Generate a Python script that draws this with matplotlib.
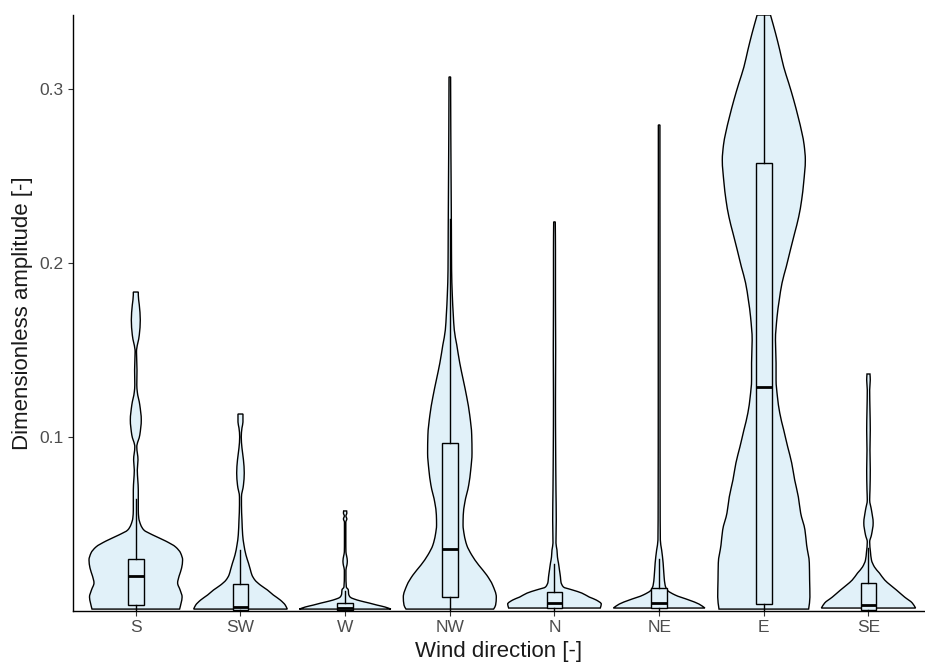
import numpy as np
import matplotlib.pyplot as plt
from matplotlib.path import Path
from matplotlib.patches import PathPatch

plt.rcParams["font.family"] = ["Liberation Sans", "DejaVu Sans"]

directions = ["S", "SW", "W", "NW", "N", "NE", "E", "SE"]

# violin outlines: amplitude levels (bottom to top) and relative density at each level
s_level = [0.0011, 0.0046, 0.0080, 0.0121, 0.0161, 0.0201, 0.0247, 0.0293, 0.0333, 0.0368,
           0.0402, 0.0437, 0.0466, 0.0494, 0.0534, 0.0580, 0.0638, 0.0695, 0.0753, 0.0810,
           0.0868, 0.0943, 0.1011, 0.1098, 0.1184, 0.1259, 0.1299, 0.1385, 0.1489, 0.1586,
           0.1672, 0.1759, 0.1816, 0.1833]
s_density = [44, 45.5, 46.5, 44.5, 42, 43.5, 46, 47, 45, 40,
             30, 17, 8, 5, 3, 2.5, 2.5, 2.5, 2, 1.5,
             2.2, 1, 4, 5.5, 4, 1.5, 1, 1.2, 0.7, 3.5,
             4.5, 3.5, 2.5, 2.5]

sw_level = [0.0011, 0.0034, 0.0063, 0.0092, 0.0121, 0.0149, 0.0178, 0.0207, 0.0236, 0.0276,
            0.0322, 0.0379, 0.0437, 0.0523, 0.0609, 0.0655, 0.0724, 0.0793, 0.0868, 0.0937,
            0.1000, 0.1052, 0.1086, 0.1132]
sw_density = [47, 45, 40, 33, 27, 20, 14.5, 11.5, 10, 8,
              5.5, 3.5, 2.2, 1.5, 1, 1, 3, 3.8, 3, 1.5,
              0.8, 1.5, 2.5, 2.5]

w_level = [0.0011, 0.0023, 0.0034, 0.0046, 0.0057, 0.0069, 0.0080, 0.0098, 0.0121, 0.0138,
           0.0207, 0.0236, 0.0264, 0.0287, 0.0316, 0.0339, 0.0400, 0.0511, 0.0529, 0.0546,
           0.0563, 0.0575]
w_density = [46, 40, 32, 24, 16, 9, 5, 3.5, 3.2, 1.2,
             0.8, 0.8, 1.8, 2.2, 1.5, 0.8, 0.7, 0.7, 1.7, 0.8,
             1.7, 1.5]

nw_level = [0.0011, 0.0034, 0.0080, 0.0149, 0.0207, 0.0264, 0.0322, 0.0379, 0.0437, 0.0494,
            0.0552, 0.0621, 0.0724, 0.0810, 0.0908, 0.1011, 0.1126, 0.1230, 0.1328, 0.1425,
            0.1529, 0.1615, 0.1701, 0.1816, 0.1960, 0.2190, 0.2477, 0.2764, 0.3069]
nw_density = [44, 46, 46.7, 43, 37, 29, 22, 17, 14.5, 13.3,
              13.5, 15, 19, 21, 22.3, 22, 20, 17, 13.5, 10,
              7, 4.5, 3.5, 2.5, 1.8, 1.6, 1.3, 1.0, 0.8]

n_level = [0.0017, 0.0040, 0.0063, 0.0080, 0.0103, 0.0121, 0.0138, 0.0167, 0.0195, 0.0236,
           0.0276, 0.0310, 0.0351, 0.0391, 0.0523, 0.0695, 0.0925, 0.1213, 0.1500, 0.1787,
           0.2075, 0.2236]
n_density = [46, 47, 42, 35, 27.5, 18, 9, 6.5, 6, 5,
             4, 3, 2.5, 1.5, 1.8, 1.5, 1.2, 1.0, 1.2, 1.0,
             1.0, 0.8]

ne_level = [0.0017, 0.0040, 0.0063, 0.0092, 0.0121, 0.0149, 0.0195, 0.0276, 0.0351, 0.0408,
            0.0638, 0.1213, 0.1787, 0.2362, 0.2793]
ne_density = [46, 40, 30, 16, 8, 6, 5, 4, 2.5, 1.2,
              1.0, 0.9, 0.9, 0.8, 0.8]

e_level = [0.0011, 0.0080, 0.0178, 0.0276, 0.0379, 0.0466, 0.0563, 0.0655, 0.0753, 0.0851,
           0.0943, 0.1040, 0.1138, 0.1230, 0.1328, 0.1425, 0.1557, 0.1690, 0.1787, 0.1885,
           0.1977, 0.2075, 0.2172, 0.2264, 0.2362, 0.2460, 0.2592, 0.2678, 0.2747, 0.2839,
           0.2937, 0.3034, 0.3126, 0.3224, 0.3322, 0.3425]
e_density = [45, 46.3, 46, 45.7, 43, 41.3, 37, 34.7, 31, 28,
             24, 20, 16, 13.7, 12.3, 12.3, 11.7, 13.3, 15.5, 18.3,
             22.5, 26.7, 31, 35, 38, 40, 41.7, 40.5, 38.3, 34.5,
             30, 25, 20, 16, 11.7, 6.7]

se_level = [0.0017, 0.0046, 0.0080, 0.0121, 0.0149, 0.0178, 0.0218, 0.0253, 0.0293, 0.0339,
            0.0397, 0.0437, 0.0506, 0.0580, 0.0638, 0.0695, 0.0810, 0.0925, 0.1040, 0.1155,
            0.1270, 0.1328, 0.1362]
se_density = [47.3, 44, 36.3, 28, 22, 16.3, 11, 6, 3, 2,
              1.2, 3, 4.7, 3, 1.2, 1.5, 1.8, 1.5, 1.8, 1.5,
              1.2, 1.8, 1.5]

levels = [s_level, sw_level, w_level, nw_level, n_level, ne_level, e_level, se_level]
densities = [s_density, sw_density, w_density, nw_density, n_density, ne_density, e_density, se_density]

# box statistics per direction
whisker_low = [0.0, 0.0, 0.0, 0.0, 0.0, 0.0, 0.0, 0.0]
q1 = [0.0034, 0.0006, 0.0005, 0.0080, 0.0015, 0.0017, 0.0040, 0.0007]
median = [0.0201, 0.0023, 0.0020, 0.0356, 0.0048, 0.0046, 0.1290, 0.0034]
q3 = [0.0299, 0.0155, 0.0048, 0.0966, 0.0110, 0.0132, 0.2575, 0.0163]
whisker_high = [0.0644, 0.0350, 0.0115, 0.2250, 0.0270, 0.0300, 0.3425, 0.0360]

fill_color = "#E1F1F9"


def pchip_slopes(y, w):
    h = np.diff(y)
    delta = np.diff(w) / h
    m = np.zeros(len(w))
    m[0] = delta[0]
    m[-1] = delta[-1]
    for k in range(1, len(w) - 1):
        if delta[k - 1] * delta[k] <= 0:
            m[k] = 0.0
        else:
            w1 = 2 * h[k] + h[k - 1]
            w2 = h[k] + 2 * h[k - 1]
            m[k] = (w1 + w2) / (w1 / delta[k - 1] + w2 / delta[k])
    return m


def violin_patch(xc, level, density, scale):
    y = np.asarray(level, dtype=float)
    w = np.asarray(density, dtype=float) * scale
    m = pchip_slopes(y, w)

    # right half, bottom to top, as cubic bezier pieces
    right = [(xc + w[0], y[0])]
    for i in range(len(y) - 1):
        h = y[i + 1] - y[i]
        right += [
            (xc + w[i] + m[i] * h / 3, y[i] + h / 3),
            (xc + w[i + 1] - m[i + 1] * h / 3, y[i + 1] - h / 3),
            (xc + w[i + 1], y[i + 1]),
        ]
    curve_codes = [Path.CURVE4] * (len(right) - 1)
    # left half is the mirror image, walked top to bottom
    left = [(2 * xc - x, yy) for x, yy in reversed(right)]

    verts = right + left + [right[0]]
    codes = [Path.MOVETO] + curve_codes + [Path.LINETO] + curve_codes + [Path.CLOSEPOLY]
    return PathPatch(Path(verts, codes), facecolor=fill_color, edgecolor="black",
                     linewidth=1.0, zorder=2)


fig = plt.figure(figsize=(9.25, 6.63), dpi=100)
ax = fig.add_axes([73 / 925, 52 / 663, 852 / 925, 596 / 663])

positions = np.arange(1, len(directions) + 1)
max_density = max(max(d) for d in densities)
scale = 0.45 / max_density

for pos, lev, dens in zip(positions, levels, densities):
    ax.add_patch(violin_patch(pos, lev, dens, scale))

stats = []
for i in range(len(directions)):
    stats.append(dict(whislo=whisker_low[i], q1=q1[i], med=median[i], q3=q3[i],
                      whishi=whisker_high[i], fliers=[]))

ax.bxp(stats, positions=positions, widths=0.15, showcaps=False, showfliers=False,
       patch_artist=True, manage_ticks=False,
       boxprops=dict(facecolor=fill_color, edgecolor="black", linewidth=1.0),
       medianprops=dict(color="black", linewidth=2.0, solid_capstyle="butt"),
       whiskerprops=dict(color="black", linewidth=1.0),
       zorder=3)

ax.set_xlim(0.4, 8.54)
ax.set_ylim(0, 0.3425)
ax.set_xticks(positions)
ax.set_xticklabels(directions)
ax.set_yticks([0.1, 0.2, 0.3])
ax.set_yticklabels(["0.1", "0.2", "0.3"])

for side in ["top", "right"]:
    ax.spines[side].set_visible(False)
for side in ["left", "bottom"]:
    ax.spines[side].set_linewidth(1.0)
    ax.spines[side].set_color("black")

ax.tick_params(length=3.5, width=0.8, color="#333333", labelcolor="#4D4D4D",
               labelsize=12.5, pad=3)
ax.set_xlabel("Wind direction [-]", fontsize=16, labelpad=4, color="#1A1A1A")
ax.set_ylabel("Dimensionless amplitude [-]", fontsize=16, labelpad=4.5, color="#1A1A1A")

fig.savefig("out.png", dpi=100)
